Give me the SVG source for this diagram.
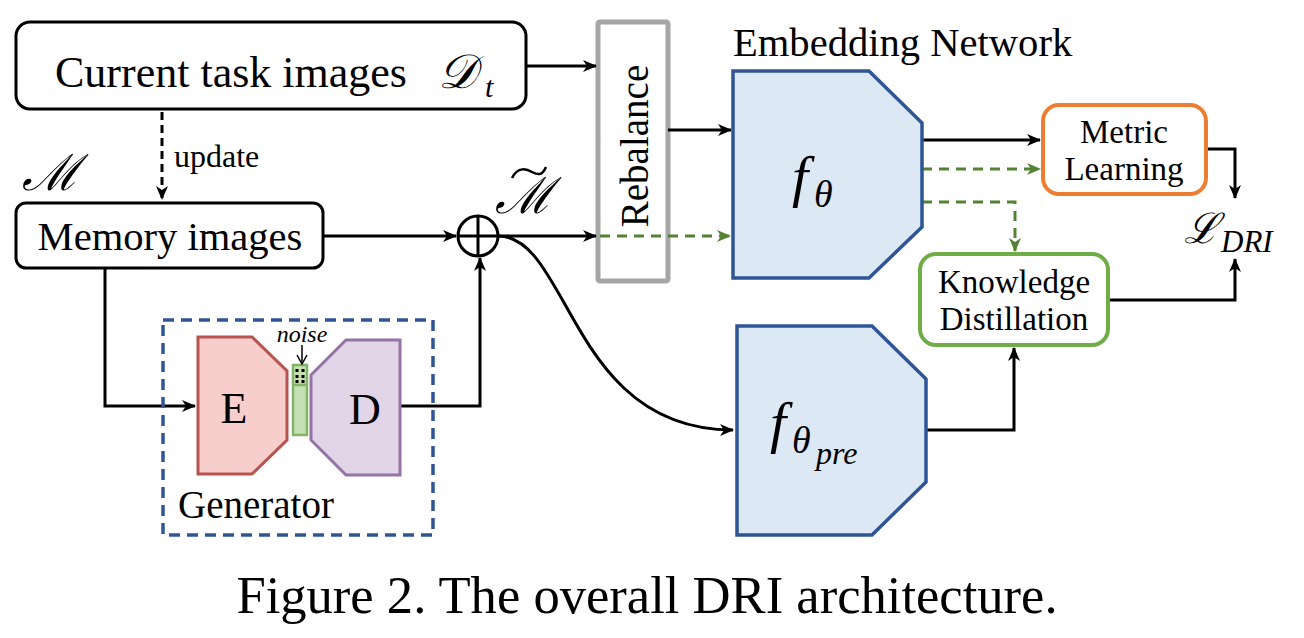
<svg xmlns="http://www.w3.org/2000/svg" width="1304" height="638" viewBox="0 0 1304 638" font-family="'Liberation Serif', 'Times New Roman', Times, serif">
<style>
.t{font-family:'Liberation Serif','Times New Roman',Times,serif;fill:#000}
.m{font-family:'Liberation Serif','Times New Roman',Times,serif;font-style:italic;fill:#000}
.ln{fill:none;stroke:#000;stroke-width:3}
.gd{fill:none;stroke:#548235;stroke-width:3;stroke-dasharray:10 7}
.net{fill:#dde8f5;stroke:#2f5597;stroke-width:3.5}
</style>
<defs>
<marker id="a" viewBox="0 0 14 12" refX="13" refY="6" markerWidth="14" markerHeight="12" markerUnits="userSpaceOnUse" orient="auto"><path d="M0,0 L14,6 L0,12 L4,6 z" fill="#000"/></marker>
<marker id="ag" viewBox="0 0 14 12" refX="13" refY="6" markerWidth="14" markerHeight="12" markerUnits="userSpaceOnUse" orient="auto"><path d="M0,0 L14,6 L0,12 L4,6 z" fill="#548235"/></marker>
</defs>
<rect width="1304" height="638" fill="#fff"/>

<g id="rebalance">
<rect x="598" y="22" width="70" height="259" fill="#fff" stroke="#a6a6a6" stroke-width="5" rx="2"/>
<text class="t" font-family="'Liberation Serif', serif" x="0" y="0" font-size="39" text-anchor="middle" transform="translate(648,146) rotate(-90)">Rebalance</text>
</g>

<g id="connectors">
<path class="ln" d="M526,66 L596,66" marker-end="url(#a)"/>
<path class="ln" d="M162,112 L162,199" stroke-dasharray="8 5" marker-end="url(#a)"/>
<path class="ln" d="M323,236 L456,236" marker-end="url(#a)"/>
<path class="ln" d="M498,236 L596,236" marker-end="url(#a)"/>
<path class="gd" d="M600,236 L730,236" marker-end="url(#ag)"/>
<path class="ln" d="M668,130 L731,130" marker-end="url(#a)"/>
<path class="ln" d="M498,236 C570,236 570,430 733,430" marker-end="url(#a)"/>
<path class="ln" d="M105,268 L105,406 L195,406" marker-end="url(#a)"/>
<path class="ln" d="M400,406 L480,406 L480,258" marker-end="url(#a)"/>
<path class="ln" d="M922,140 L1040,140" marker-end="url(#a)"/>
<path class="gd" d="M922,169 L1040,169" marker-end="url(#ag)"/>
<path class="gd" d="M922,202 L1015,202 L1015,251" marker-end="url(#ag)"/>
<path class="ln" d="M1206,149 L1235,149 L1235,198" marker-end="url(#a)"/>
<path class="ln" d="M1108,300 L1235,300 L1235,259" marker-end="url(#a)"/>
<path class="ln" d="M926,430 L1014,430 L1014,348" marker-end="url(#a)"/>
</g>

<g id="current-task">
<rect x="16" y="22" width="510" height="87" rx="14" fill="#fff" stroke="#000" stroke-width="3"/>
<text class="t" font-family="'Liberation Serif', serif" x="55" y="87" font-size="44">Current task images</text>
<text class="m" x="438" y="88" font-size="48">𝒟</text>
<text class="m" font-family="'Liberation Serif', serif" x="485" y="97" font-size="30">t</text>
</g>

<text class="t" font-family="'Liberation Serif', serif" x="174" y="167" font-size="32">update</text>
<text class="m" x="22" y="190" font-size="50">ℳ</text>

<g id="memory">
<rect x="16" y="203" width="307" height="65" rx="10" fill="#fff" stroke="#000" stroke-width="3"/>
<text class="t" font-family="'Liberation Serif', serif" x="170" y="250" font-size="40.6" text-anchor="middle">Memory images</text>
</g>

<g id="oplus">
<circle cx="478" cy="236" r="20" fill="#fff" stroke="#000" stroke-width="3"/>
<path d="M458,236 H498 M478,216 V256" stroke="#000" stroke-width="3"/>
<text class="m" x="495" y="213" font-size="50">ℳ</text>
<path d="M512,178 C518,166 527,169 532,172 C538,175 542,176 546,167" fill="none" stroke="#000" stroke-width="2.5"/>
</g>

<g id="embedding">
<text class="t" font-family="'Liberation Serif', serif" x="733" y="56" font-size="40.6">Embedding Network</text>
<path class="net" d="M733,71 L869,71 L922,123 L922,227 L869,278 L733,278 Z"/>
<text class="m" font-family="'Liberation Serif', serif" x="792" y="196" font-size="58">f</text>
<text class="m" font-family="'Liberation Serif', serif" x="814" y="207" font-size="38">θ</text>
</g>

<g id="pretrained">
<path class="net" d="M737,326 L872,326 L926,379 L926,482 L872,535 L737,535 Z"/>
<text class="m" font-family="'Liberation Serif', serif" x="770" y="442" font-size="58">f</text>
<text class="m" font-family="'Liberation Serif', serif" x="792" y="453" font-size="38">θ</text>
<text class="m" font-family="'Liberation Serif', serif" x="816" y="464" font-size="32">pre</text>
</g>

<g id="metric">
<rect x="1043" y="105" width="163" height="89" rx="16" fill="#fff" stroke="#ed7d31" stroke-width="4"/>
<text class="t" font-family="'Liberation Serif', serif" x="1124" y="143" font-size="33" text-anchor="middle">Metric</text>
<text class="t" font-family="'Liberation Serif', serif" x="1124" y="180" font-size="33" text-anchor="middle">Learning</text>
</g>

<g id="kd">
<rect x="920" y="254" width="188" height="91" rx="16" fill="#fff" stroke="#70ad47" stroke-width="4"/>
<text class="t" font-family="'Liberation Serif', serif" x="1014" y="293" font-size="33" text-anchor="middle">Knowledge</text>
<text class="t" font-family="'Liberation Serif', serif" x="1014" y="330" font-size="33" text-anchor="middle">Distillation</text>
</g>

<g id="loss">
<text class="m" x="1184" y="243" font-size="42">ℒ</text>
<text class="m" font-family="'Liberation Serif', serif" x="1221" y="252" font-size="31">DRI</text>
</g>

<g id="generator">
<rect x="163" y="320" width="270" height="215" fill="none" stroke="#2f5597" stroke-width="3.5" stroke-dasharray="11 7"/>
<path d="M198,337 L252,337 L287,371 L287,440 L252,474 L198,474 Z" fill="#f8cecc" stroke="#b85450" stroke-width="3"/>
<text class="t" font-family="'Liberation Serif', serif" x="234" y="423" font-size="44" text-anchor="middle">E</text>
<path d="M311,375 L346,340 L400,340 L400,475 L346,475 L311,440 Z" fill="#e1d5e7" stroke="#9673a6" stroke-width="3"/>
<text class="t" font-family="'Liberation Serif', serif" x="365" y="424" font-size="44" text-anchor="middle">D</text>
<rect x="293" y="365" width="14" height="70" fill="#c5e0b3" stroke="#82b366" stroke-width="2.5"/>
<line x1="293" y1="385" x2="307" y2="385" stroke="#82b366" stroke-width="2.5"/>
<path d="M297,369 v3 M303,369 v3 M297,375 v3 M303,375 v3 M297,380 v3 M303,380 v3" stroke="#000" stroke-width="3"/>
<text class="m" font-family="'Liberation Serif', serif" x="302" y="342" font-size="24" text-anchor="middle">noise</text>
<path d="M302,345 L302,363" stroke="#000" stroke-width="1.5" fill="none"/>
<path d="M297,355 L302,364 L307,355" stroke="#000" stroke-width="1.5" fill="none"/>
<text class="t" font-family="'Liberation Serif', serif" x="178" y="518" font-size="39">Generator</text>
</g>

<text class="t" font-family="'Liberation Serif', serif" x="647" y="613" font-size="52.6" text-anchor="middle">Figure 2. The overall DRI architecture.</text>
</svg>
